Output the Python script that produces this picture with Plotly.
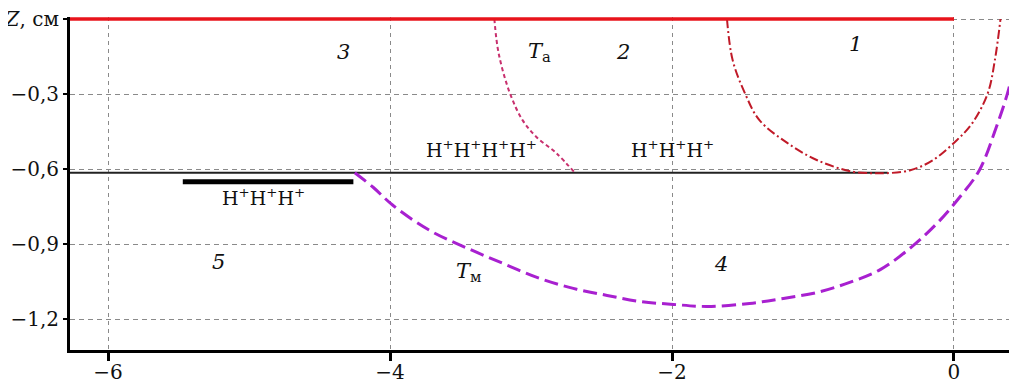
import plotly.graph_objects as go

# ---- data ----
x_tickvals = [-6, -4, -2, 0]
x_ticktext = ["−6", "−4", "−2", "0"]
y_tickvals = [0, -0.3, -0.6, -0.9, -1.2]
y_ticktext = ["<i>Z</i>, см", "−0,3", "−0,6", "−0,9", "−1,2"]

# top red boundary (Z = 0)
top_x = [-6.27, 0.0]
top_z = [0.0, 0.0]

# thin black line
thin_x = [-6.27, -0.47]
thin_z = [-0.614, -0.614]

# thick black segment
thick_x = [-5.47, -4.26]
thick_z = [-0.65, -0.65]

# curve 1 (dark red, dash-dot)
c1_x = [-1.61, -1.57, -1.48, -1.38, -1.18, -0.97, -0.72, -0.55, -0.48, -0.31, -0.15, 0.02, 0.13, 0.24, 0.29, 0.33]
c1_z = [0.0, -0.164, -0.30, -0.404, -0.496, -0.564, -0.610, -0.616, -0.616, -0.604, -0.564, -0.484, -0.416, -0.296, -0.164, 0.0]

# T_a curve (pink, dotted)
ta_x = [-3.26, -3.23, -3.15, -3.06, -2.96, -2.82, -2.69]
ta_z = [0.0, -0.136, -0.296, -0.404, -0.472, -0.536, -0.614]

# T_m curve (purple, long dash)
tm_x = [-4.25, -4.12, -3.98, -3.72, -3.45, -3.20, -2.94, -2.70, -2.46, -2.23, -1.99, -1.75,
        -1.45, -1.21, -0.97, -0.74, -0.52, -0.30, -0.12, 0.04, 0.18, 0.30, 0.38, 0.45]
tm_z = [-0.614, -0.672, -0.744, -0.844, -0.916, -0.976, -1.036, -1.076, -1.104, -1.128, -1.140, -1.148,
        -1.136, -1.116, -1.092, -1.052, -1.000, -0.910, -0.816, -0.712, -0.604, -0.432, -0.296, -0.136]

# labels
lab_text = ["<i>3</i>", "<i>T</i><sub>а</sub>", "<i>2</i>", "<i>1</i>",
            "H<sup>+</sup>H<sup>+</sup>H<sup>+</sup>H<sup>+</sup>",
            "H<sup>+</sup>H<sup>+</sup>H<sup>+</sup>",
            "H<sup>+</sup>H<sup>+</sup>H<sup>+</sup>",
            "<i>5</i>", "<i>T</i><sub>м</sub>", "<i>4</i>"]
lab_x = [-4.33, -2.94, -2.35, -0.70, -3.35, -2.00, -4.90, -5.22, -3.44, -1.65]
lab_z = [-0.13, -0.13, -0.13, -0.10, -0.52, -0.52, -0.71, -0.97, -1.01, -0.98]
lab_size = [21, 21, 21, 21, 19, 19, 19, 21, 21, 21]

FONT = "DejaVu Serif"

fig = go.Figure()

fig.add_trace(go.Scatter(x=thin_x, y=thin_z, mode="lines",
                         line=dict(color="#222222", width=2)))
fig.add_trace(go.Scatter(x=thick_x, y=thick_z, mode="lines",
                         line=dict(color="#000000", width=5)))
fig.add_trace(go.Scatter(x=ta_x, y=ta_z, mode="lines", line_shape="spline",
                         line=dict(color="#c8306e", width=2, dash="4px,3px")))
fig.add_trace(go.Scatter(x=c1_x, y=c1_z, mode="lines", line_shape="spline",
                         line=dict(color="#c01a28", width=2, dash="9px,3px,2px,3px")))
fig.add_trace(go.Scatter(x=tm_x, y=tm_z, mode="lines", line_shape="spline",
                         line=dict(color="#a820d0", width=3, dash="14px,6px")))
fig.add_trace(go.Scatter(x=top_x, y=top_z, mode="lines",
                         line=dict(color="#e8141c", width=3.5)))

for t, x, z, s in zip(lab_text, lab_x, lab_z, lab_size):
    fig.add_annotation(x=x, y=z, xref="x", yref="y", text=t, showarrow=False,
                       font=dict(family=FONT, size=s, color="#111111"))

# page body has an 8px margin, so the figure is shifted; compensate in margins
fig.update_layout(
    width=1017, height=381,
    margin=dict(l=62, r=8, t=9, b=39, autoexpand=False),
    paper_bgcolor="white", plot_bgcolor="white",
    showlegend=False,
    font=dict(family=FONT, size=20, color="#111111"),
)
fig.update_xaxes(range=[-6.27, 0.447], tickvals=x_tickvals, ticktext=x_ticktext,
                 automargin=False, ticklabeloverflow="allow", ticklabelstandoff=-6,
                 tickfont=dict(family=FONT, size=20, color="#111111"),
                 showline=True, linecolor="black", linewidth=3,
                 ticks="outside", ticklen=8, tickwidth=3, tickcolor="black",
                 showgrid=True, gridcolor="#8a8a8a", gridwidth=1, griddash="4px,4px",
                 zeroline=False)
fig.update_yaxes(range=[-1.322, 0.008], tickvals=y_tickvals, ticktext=y_ticktext,
                 automargin=False, ticklabeloverflow="allow",
                 tickfont=dict(family=FONT, size=20, color="#111111"),
                 showline=True, linecolor="black", linewidth=3,
                 ticks="outside", ticklen=4, tickwidth=2, tickcolor="black",
                 showgrid=True, gridcolor="#8a8a8a", gridwidth=1, griddash="5px,4px",
                 zeroline=False)

fig.write_html("out.html")
